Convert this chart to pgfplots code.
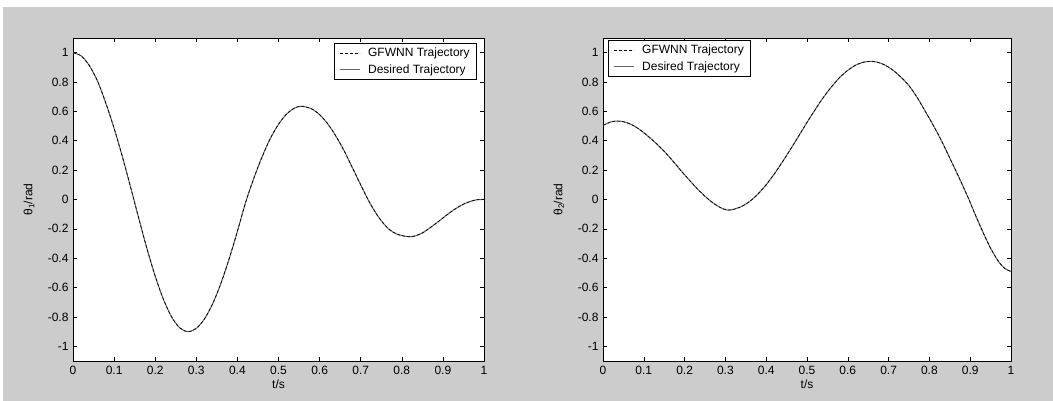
\documentclass[border=0pt]{standalone}
\usepackage{fontspec}
\setmainfont{Liberation Sans}
\usepackage{pgfplots}
\pgfplotsset{compat=1.18}
\usepackage{pgfplotstable}
\definecolor{bggray}{RGB}{204,204,204}
\definecolor{desired}{RGB}{100,100,100}

\pgfplotstableread{
t y
0     1.0
0.02  0.978
0.04  0.911
0.06  0.804
0.08  0.655
0.10  0.485
0.12  0.293
0.14  0.085
0.148 0.0
0.16  -0.128
0.18  -0.335
0.20  -0.522
0.22  -0.680
0.24  -0.800
0.26  -0.875
0.28  -0.900
0.30  -0.878
0.32  -0.813
0.34  -0.709
0.36  -0.570
0.38  -0.403
0.40  -0.217
0.42  -0.020
0.44  0.145
0.46  0.290
0.48  0.415
0.50  0.512
0.52  0.583
0.54  0.624
0.557 0.635
0.58  0.618
0.60  0.578
0.62  0.514
0.64  0.430
0.66  0.330
0.68  0.215
0.70  0.100
0.715 0.015
0.73  -0.062
0.75  -0.145
0.77  -0.205
0.79  -0.238
0.815 -0.253
0.83  -0.250
0.85  -0.228
0.87  -0.190
0.89  -0.148
0.91  -0.104
0.93  -0.064
0.95  -0.032
0.97  -0.010
0.985 -0.001
1.0   0.0
}\thetaone

\pgfplotstableread{
t y
0     0.505
0.02  0.529
0.035 0.534
0.05  0.530
0.07  0.510
0.09  0.476
0.11  0.432
0.13  0.383
0.15  0.328
0.17  0.266
0.19  0.200
0.21  0.137
0.23  0.076
0.25  0.022
0.27  -0.024
0.29  -0.058
0.305 -0.072
0.32  -0.067
0.34  -0.047
0.36  -0.012
0.38  0.038
0.40  0.101
0.42  0.175
0.44  0.257
0.46  0.344
0.48  0.434
0.50  0.525
0.52  0.612
0.54  0.695
0.56  0.767
0.58  0.831
0.60  0.880
0.62  0.916
0.64  0.936
0.655 0.941
0.67  0.937
0.69  0.917
0.71  0.882
0.73  0.834
0.75  0.775
0.77  0.695
0.79  0.600
0.81  0.503
0.83  0.398
0.85  0.282
0.87  0.165
0.89  0.043
0.897 0.0
0.91  -0.088
0.93  -0.215
0.95  -0.332
0.97  -0.425
0.985 -0.470
1.0   -0.490
}\thetatwo

\pgfplotsset{
  matlab/.style={
    scale only axis,
    height=323pt,
    xmin=0, xmax=1, ymin=-1.1, ymax=1.1,
    xtick={0,0.1,0.2,0.3,0.4,0.5,0.6,0.7,0.8,0.9,1},
    xticklabels={0,0.1,0.2,0.3,0.4,0.5,0.6,0.7,0.8,0.9,1},
    ytick={-1,-0.8,-0.6,-0.4,-0.2,0,0.2,0.4,0.6,0.8,1},
    yticklabels={-1,-0.8,-0.6,-0.4,-0.2,0,0.2,0.4,0.6,0.8,1},
    tick align=inside,
    major tick length=4pt,
    axis line style={black, line width=0.8pt},
    tick style={black, line width=0.6pt},
    axis background/.style={fill=white},
    every tick label/.append style={font=\fontsize{12}{14}\selectfont},
    xticklabel style={yshift=-2pt},
    yticklabel style={xshift=-1pt},
    label style={font=\fontsize{12}{14}\selectfont},
    xlabel style={at={(axis description cs:0.5,-0.058)}, anchor=north, inner sep=0pt},
    ylabel style={at={(axis description cs:-0.107,0.5)}, anchor=center, inner sep=0pt},
    xlabel={t/s},
    legend style={font=\fontsize{12}{14}\selectfont, draw=black, line width=0.6pt,
      fill=white, inner xsep=5pt, inner ysep=3pt, row sep=2pt, column sep=6pt},
    legend cell align=left,
    reverse legend,
    legend image code/.code={\draw[#1] (0pt,0pt) -- (20pt,0pt);},
  },
  desiredline/.style={desired, line width=1pt, smooth},
  gfwnnline/.style={black, line width=0.7pt, dash pattern=on 3pt off 2pt, smooth},
}

\begin{document}
\begin{tikzpicture}
\useasboundingbox (0,0) rectangle (1053pt,401pt);
\fill[white] (0,0) rectangle (1053pt,401pt);
\fill[bggray] (3pt,0) rectangle (1053pt,394pt);

\begin{axis}[matlab, at={(73pt,40pt)}, anchor=south west, width=411pt,
  ylabel={θ\textsubscript{1}/rad},
  legend style={at={(axis description cs:0.983,0.985)}, anchor=north east}]
\addplot[desiredline] table[x=t,y=y] {\thetaone};
\addlegendentry{Desired Trajectory}
\addplot[gfwnnline] table[x=t,y=y] {\thetaone};
\addlegendentry{GFWNN Trajectory}
\end{axis}

\begin{axis}[matlab, at={(603pt,40pt)}, anchor=south west, width=408pt,
  ylabel={θ\textsubscript{2}/rad},
  ylabel style={at={(axis description cs:-0.108,0.5)}},
  legend style={at={(axis description cs:0.012,0.994)}, anchor=north west}]
\addplot[desiredline] table[x=t,y=y] {\thetatwo};
\addlegendentry{Desired Trajectory}
\addplot[gfwnnline] table[x=t,y=y] {\thetatwo};
\addlegendentry{GFWNN Trajectory}
\end{axis}
\end{tikzpicture}
\end{document}
